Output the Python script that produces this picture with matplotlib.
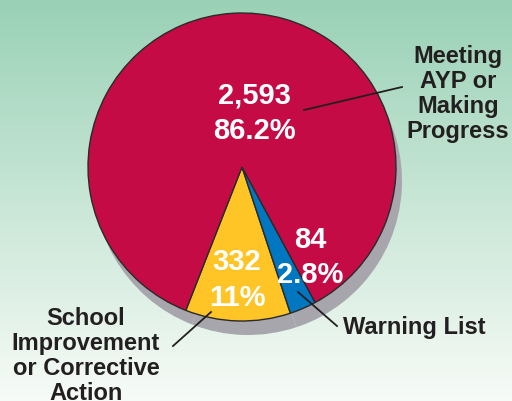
import matplotlib

matplotlib.use("Agg")
import matplotlib.pyplot as plt
import numpy as np

plt.rcParams["font.family"] = ["Liberation Sans", "DejaVu Sans"]

# data
categories = ["School\nImprovement\nor Corrective\nAction", "Warning List", "Meeting\nAYP or\nMaking\nProgress"]
counts = [332, 84, 2593]
count_labels = ["332", "84", "2,593"]
pct_labels = ["11%", "2.8%", "86.2%"]
colors = ["#FFC425", "#0077C0", "#C40B45"]

W, H = 512, 402
fig = plt.figure(figsize=(W / 100, H / 100), dpi=100)

# background gradient
bg = fig.add_axes([0, 0, 1, 1])
top = np.array([0.60, 0.82, 0.71])
bot = np.array([0.97, 0.985, 0.97])
t = np.linspace(0, 1, 256)[:, None, None]
grad = top * (1 - t) + bot * t
grad = np.repeat(grad, 2, axis=1)
bg.imshow(grad, aspect="auto", extent=[0, 1, 0, 1])
bg.set_axis_off()

ax = fig.add_axes([0, 0, 1, 1])
ax.set_facecolor("none")

cx, cy, r = 242, H - 168, 154
start = 248.6

# shadow
ax.pie(counts, colors=["#A6A6AC"] * 3, startangle=start, center=(cx + 6, cy - 14), radius=r,
       wedgeprops=dict(linewidth=0), frame=True)
wedges, _ = ax.pie(counts, colors=colors, startangle=start, center=(cx, cy), radius=r,
                   wedgeprops=dict(linewidth=1.0, edgecolor="#2a2a2a"), frame=True)

ax.set_xlim(0, W)
ax.set_ylim(0, H)
ax.set_aspect("equal")
ax.set_axis_off()

vfont = dict(color="white", fontsize=21, fontweight="bold", ha="center", va="center")
val_pos = [(237, 262, 298), (310, 240, 275), (254, 96, 131)]
for (x, y1, y2), c, p in zip(val_pos, count_labels, pct_labels):
    ax.text(x, H - y1, c, **vfont)
    ax.text(x, H - y2, p, **vfont)

lfont = dict(color="#231F20", fontsize=17, fontweight="bold", ha="center", va="center", linespacing=1.12)
ax.text(458, H - 94, categories[2], **lfont)
ax.text(414, H - 328, categories[1], **lfont)
ax.text(86, H - 356, categories[0], **lfont)

lk = dict(color="#231F20", linewidth=1.3)
ax.plot([304, 402], [H - 111, H - 88], **lk)
ax.plot([298, 337], [H - 293, H - 327], **lk)
ax.plot([173, 211], [H - 347, H - 313], **lk)

fig.savefig("out.png", dpi=100)
